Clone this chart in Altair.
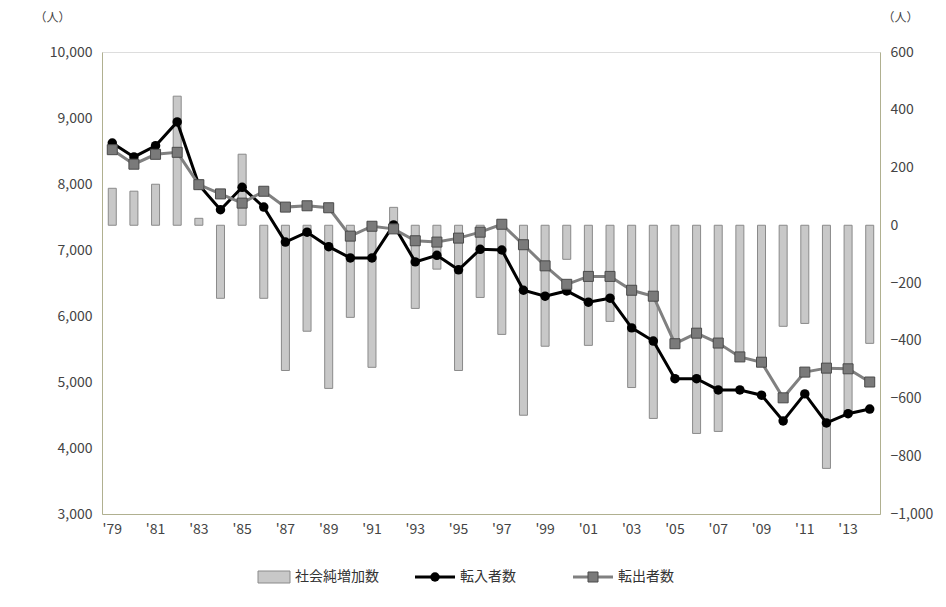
import pandas as pd
import altair as alt

years = [f"'{y % 100:02d}" for y in range(1979, 2015)]

net_increase = [128, 118, 142, 447, 24, -253, 246, -253, -503, -367, -565, -319,
                -492, 62, -288, -152, -503, -250, -378, -658, -419, -118, -416, -333,
                -562, -669, -416, -721, -714, -447, -461, -350, -340, -842, -655, -409]

moved_in = [8620, 8410, 8580, 8940, 7990, 7610, 7950, 7650, 7120, 7270, 7050, 6880,
            6880, 7380, 6820, 6920, 6700, 7010, 7000, 6390, 6300, 6380, 6210, 6270,
            5820, 5620, 5050, 5050, 4880, 4880, 4800, 4410, 4820, 4380, 4520, 4590]

moved_out = [8520, 8300, 8450, 8480, 7990, 7850, 7710, 7890, 7650, 7670, 7640, 7210,
             7360, 7320, 7140, 7120, 7180, 7270, 7390, 7080, 6760, 6480, 6600, 6600,
             6390, 6300, 5580, 5740, 5590, 5380, 5300, 4760, 5150, 5210, 5200, 5000]

df = pd.DataFrame({"year": years, "net": net_increase,
                   "in": moved_in, "out": moved_out})

FONT = "Noto Sans CJK JP"
W, H = 778, 462

x = alt.X("year:O", sort=years, title=None,
          scale=alt.Scale(paddingInner=0.55, paddingOuter=0.25),
          axis=alt.Axis(labelExpr="parseInt(slice(datum.value, 1)) % 2 == 1 ? datum.value : ''",
                        labelAngle=0, ticks=False, domainColor="#b0b090",
                        labelColor="#444", labelFontSize=14, labelPadding=8))

base = alt.Chart(df).encode(x=x)

bars = base.mark_bar(size=8, color="#c8c8c8", stroke="#8a8a8a", strokeWidth=1).encode(
    y=alt.Y("net:Q", title="（人）",
            scale=alt.Scale(domain=[-1000, 600]),
            axis=alt.Axis(orient="right", values=list(range(-1000, 601, 200)), format=",.0f",
                          grid=False, ticks=False, domainColor="#b0b090",
                          labelColor="#444", labelFontSize=14, labelPadding=10,
                          titleAngle=0, titleX=20, titleY=-28, titleFontSize=12,
                          titleFontWeight="normal", titleColor="#444")),
    y2=alt.datum(0)
)

line_in = base.mark_line(color="#000000", strokeWidth=3,
                         point=alt.OverlayMarkDef(filled=True, size=90, color="#000000")).encode(
    y=alt.Y("in:Q", title="（人）",
            scale=alt.Scale(domain=[3000, 10000]),
            axis=alt.Axis(orient="left", values=list(range(3000, 10001, 1000)), format=",.0f",
                          gridColor="#dcdcdc", ticks=False, domainColor="#b0b090",
                          labelColor="#444", labelFontSize=14, labelPadding=10,
                          titleAngle=0, titleX=-50, titleY=-28, titleFontSize=12,
                          titleFontWeight="normal", titleColor="#444"))
)

line_out = base.mark_line(color="#808080", strokeWidth=3,
                          point=alt.OverlayMarkDef(shape="square", filled=True, size=100,
                                                   color="#7a7a7a", stroke="#4a4a4a",
                                                   strokeWidth=1)).encode(
    y=alt.Y("out:Q", scale=alt.Scale(domain=[3000, 10000]), axis=None)
)

# hand-made legend under the plot
one = pd.DataFrame({"k": [0]})
lg = alt.Chart(one)
ly = H + 63
legend = [
    lg.mark_rect(color="#c8c8c8", stroke="#8a8a8a").encode(
        x=alt.value(156), x2=alt.value(188), y=alt.value(ly - 6), y2=alt.value(ly + 6)),
    lg.mark_text(align="left", baseline="middle", fontSize=14, font=FONT, color="#333").encode(
        x=alt.value(193), y=alt.value(ly), text=alt.value("社会純増加数")),
    lg.mark_rule(color="#000", strokeWidth=3).encode(
        x=alt.value(313), x2=alt.value(353), y=alt.value(ly)),
    lg.mark_point(shape="circle", filled=True, size=90, color="#000", opacity=1).encode(
        x=alt.value(333), y=alt.value(ly)),
    lg.mark_text(align="left", baseline="middle", fontSize=14, font=FONT, color="#333").encode(
        x=alt.value(358), y=alt.value(ly), text=alt.value("転入者数")),
    lg.mark_rule(color="#808080", strokeWidth=3).encode(
        x=alt.value(471), x2=alt.value(511), y=alt.value(ly)),
    lg.mark_point(shape="square", filled=True, size=100, color="#7a7a7a",
                  stroke="#4a4a4a", strokeWidth=1, opacity=1).encode(
        x=alt.value(491), y=alt.value(ly)),
    lg.mark_text(align="left", baseline="middle", fontSize=14, font=FONT, color="#333").encode(
        x=alt.value(516), y=alt.value(ly), text=alt.value("転出者数")),
]

chart = alt.layer(bars, line_in, line_out, *legend).resolve_scale(y="independent").properties(
    width=W, height=H,
    autosize=alt.AutoSizeParams(type="none"),
    padding={"left": 94, "top": 44, "right": 58, "bottom": 80}
).configure_view(stroke=None).configure(font=FONT)

chart.save("out.html", embed_options={"renderer": "svg", "actions": False})
